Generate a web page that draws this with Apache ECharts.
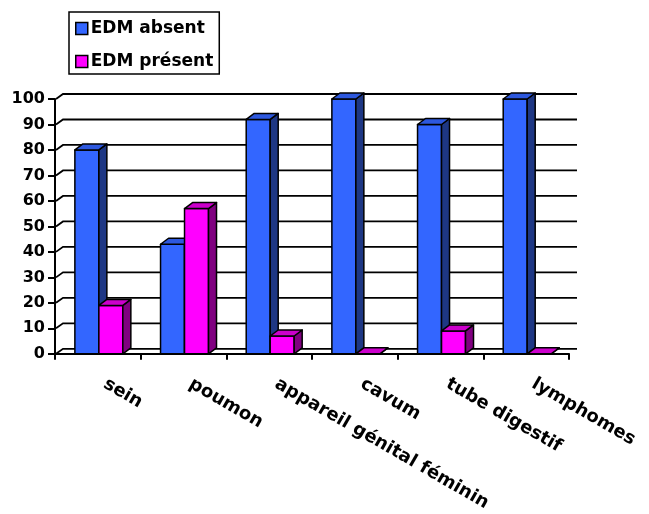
<!DOCTYPE html>
<html>
<head>
<meta charset="utf-8">
<script src="https://cdn.jsdelivr.net/npm/echarts@6/dist/echarts.min.js"></script>
<style>
  html, body { margin: 0; padding: 0; background: #fff; }
  #chart { width: 649px; height: 514px; }
</style>
</head>
<body>
<div id="chart"></div>
<script>
// Data
const categories = ['sein', 'poumon', 'appareil génital féminin', 'cavum', 'tube digestif', 'lymphomes'];
const edmAbsent = [80, 43, 92, 100, 90, 100];
const edmPresent = [19, 57, 7, 0, 9, 0];
const yTicks = [0, 10, 20, 30, 40, 50, 60, 70, 80, 90, 100];
const seriesNames = ['EDM absent', 'EDM présent'];

// Pseudo-3D geometry
const DEPTH_X = 8, DEPTH_Y = 6;     // bar depth
const WALL_X = 8, WALL_Y = 5;       // back wall offset
const BAR_W = 0.28;                 // bar width as a fraction of the category band
const FONT = '"DejaVu Sans", Verdana, sans-serif';

const faces = {
  blue: { front: '#3366FF', top: '#2D58DE', side: '#1E3784' },
  pink: { front: '#FF00FF', top: '#CC00CC', side: '#800080' }
};

function poly(points, fill) {
  return {
    type: 'polygon',
    shape: { points: points },
    style: { fill: fill, stroke: '#000', lineWidth: 1.5, lineJoin: 'round' }
  };
}

function barRenderer(offsetFrac, f) {
  return function (params, api) {
    const idx = api.value(0);
    const val = api.value(1);
    const band = api.size([1, 0])[0];
    const base = api.coord([idx, 0]);
    const top = api.coord([idx, val]);
    const x0 = base[0] + band * offsetFrac;
    const x1 = x0 + band * BAR_W;
    const yb = base[1];
    const yt = top[1];
    return {
      type: 'group',
      children: [
        poly([[x0, yb], [x1, yb], [x1, yt], [x0, yt]], f.front),
        poly([[x1, yb], [x1 + DEPTH_X, yb - DEPTH_Y], [x1 + DEPTH_X, yt - DEPTH_Y], [x1, yt]], f.side),
        poly([[x0, yt], [x1, yt], [x1 + DEPTH_X, yt - DEPTH_Y], [x0 + DEPTH_X, yt - DEPTH_Y]], f.top)
      ]
    };
  };
}

function wallRenderer(params, api) {
  const cs = params.coordSys;
  const y = api.coord([0, api.value(1)])[1];
  return {
    type: 'polyline',
    shape: { points: [[cs.x + 1, y], [cs.x + WALL_X, y - WALL_Y], [cs.x + cs.width + WALL_X, y - WALL_Y]] },
    style: { fill: null, stroke: '#000', lineWidth: 1.8 }
  };
}

const chart = echarts.init(document.getElementById('chart'), null, { renderer: 'canvas' });

chart.setOption({
  animation: false,
  backgroundColor: '#fff',
  textStyle: { fontFamily: FONT },
  legend: {
    data: seriesNames,
    orient: 'vertical',
    left: 69,
    top: 12,
    padding: [8, 6, 4, 6],
    itemGap: 16,
    itemWidth: 12,
    itemHeight: 12,
    icon: 'rect',
    borderColor: '#000',
    borderWidth: 1.5,
    backgroundColor: '#fff',
    itemStyle: { borderColor: '#000', borderWidth: 1.5 },
    textStyle: { fontFamily: FONT, fontWeight: 'bold', fontSize: 17, color: '#000', padding: [0, 0, 0, -2] }
  },
  grid: { left: 55, right: 80, top: 99, bottom: 157.5 },
  xAxis: {
    type: 'category',
    data: categories,
    boundaryGap: true,
    axisLine: { lineStyle: { color: '#000', width: 2 } },
    axisTick: { show: true, length: 6, interval: 0, lineStyle: { color: '#000', width: 2 } },
    axisLabel: {
      interval: 0,
      rotate: -30,
      margin: 25,
      padding: [0, 0, 0, 8],
      color: '#000',
      fontFamily: FONT,
      fontWeight: 'bold',
      fontSize: 18
    }
  },
  yAxis: {
    type: 'value',
    min: 0,
    max: 100,
    interval: 10,
    axisLine: { show: true, lineStyle: { color: '#000', width: 2 } },
    axisTick: { show: true, length: 7, lineStyle: { color: '#000', width: 2 } },
    splitLine: { show: false },
    axisLabel: {
      margin: 10,
      color: '#000',
      fontFamily: FONT,
      fontWeight: 'bold',
      fontSize: 16
    }
  },
  series: [
    {
      type: 'custom',
      silent: true,
      clip: false,
      z: 1,
      data: yTicks.map(function (v) { return [0, v]; }),
      renderItem: wallRenderer
    },
    {
      name: seriesNames[0],
      type: 'custom',
      clip: false,
      z: 2,
      itemStyle: { color: faces.blue.front },
      data: edmAbsent.map(function (v, i) { return [i, v]; }),
      renderItem: barRenderer(-0.268, faces.blue)
    },
    {
      name: seriesNames[1],
      type: 'custom',
      clip: false,
      z: 3,
      itemStyle: { color: faces.pink.front },
      data: edmPresent.map(function (v, i) { return [i, v]; }),
      renderItem: barRenderer(0.012, faces.pink)
    }
  ]
});
</script>
</body>
</html>
